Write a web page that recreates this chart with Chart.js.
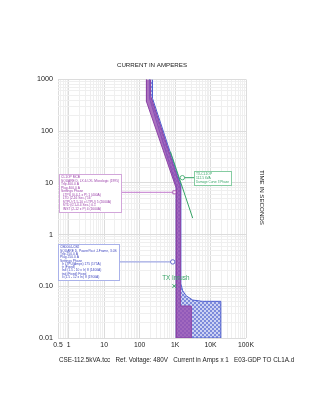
<!DOCTYPE html>
<html>
<head>
<meta charset="utf-8">
<script src="https://cdn.jsdelivr.net/npm/chart.js@4.4.0/dist/chart.umd.min.js"></script>
<style>
  html, body { margin: 0; padding: 0; background: #fff; }
</style>
</head>
<body>
<canvas id="tcc" width="325" height="420"></canvas>
<script>
// amps / seconds
const xTickValues = [0.5, 1, 10, 100, 1000, 10000, 100000];
const xTickText = ['0.5', '1', '10', '100', '1K', '10K', '100K'];
const yTickValues = [0.01, 0.1, 1, 10, 100, 1000];
const yTickText = ['0.01', '0.10', '1', '10', '100', '1000'];

// CL1OP MCB band: down the left edge, back up the right edge
const mcbAmps = [156, 156, 1090, 1090, 2880, 2880, 1410, 1410, 203, 203];
const mcbSecs = [1000, 373, 7.7, 0.01, 0.01, 0.0415, 0.0415, 8.4, 488, 1000];

// CB2 band
const cb2Amps = [190, 190, 1090, 1090, 19500, 19500, 5875, 3140, 2046, 1641, 1460, 1460, 231, 231];
const cb2Secs = [1000, 430, 8.6, 0.01, 0.01, 0.0512, 0.0512, 0.0542, 0.0657, 0.082, 0.111, 9.2, 430, 1000];

// transformer damage curve + inrush point
const txDamageAmps = [740, 3140];
const txDamageSecs = [40, 2.08];
const inrushAmps = [950];
const inrushSecs = [0.101];

// leader lines from the setting boxes
const mcbTagAmps = [29, 959];
const mcbTagSecs = [6.57, 6.57];
const cb2TagAmps = [25.5, 859];
const cb2TagSecs = [0.296, 0.296];
const txTagAmps = [1609, 3502];
const txTagSecs = [12.6, 12.6];

const mcbNote = ['CL1OP MCB', 'SQUARE D, LX & LXL Micrologic (1995)', 'Trip 400.0 A', 'Plug 400.0 A', 'Settings Phase',
  '  LTPU (0.4-1 x P) 1 (400A)', '  LTD (2-16 Sec.) 16', '  STPU (1.5-10 x LTPU) 5 (2000A)', '  STD (0.1-0.4 Sec.) 0.1', '  INST (2-12 x P) 4 (1600A)'];
const cb2Note = ['CB0004-CB2', 'SQUARE D, PowerPact J-Frame, 3.0S', 'Trip 250.0 A', 'Plug 250.0 A', 'Settings Phase',
  '  Ir LTPU(Amps) 175 (175A)', '  tr (Fixed)', '  Isd (1.5 - 10 x Ir) 8 (1400A)', '  tsd (Fixed) Fixed', '  Ii (1.5 - 12 x In) 8 (1900A)'];
const txNote = ['TX-CL1OP', '112.5 kVA', 'Damage Curve 3 Phase'];

const pts = (xs, ys) => xs.map((x, i) => ({ x: x, y: ys[i] }));

function logGrid(min, max) {
  const out = [min];
  for (let e = Math.floor(Math.log10(min)); e <= Math.ceil(Math.log10(max)); e++) {
    for (let d = 1; d < 10; d++) {
      const v = d * Math.pow(10, e);
      if (v > min * 1.0001 && v <= max * 1.0001) out.push(v);
    }
  }
  return out;
}

function findTick(values, v) {
  return values.findIndex(m => Math.abs(Math.log10(m) - Math.log10(v)) < 1e-6);
}

function checker() {
  const c = document.createElement('canvas');
  c.width = 4; c.height = 4;
  const g = c.getContext('2d');
  g.fillStyle = '#cdd2f3';
  g.fillRect(0, 0, 4, 4);
  g.fillStyle = '#7d8bdb';
  g.fillRect(0, 0, 2, 2);
  g.fillRect(2, 2, 2, 2);
  return g.createPattern(c, 'repeat');
}

const font = '"Liberation Sans", Arial, sans-serif';
const green = '#36a466';

// setting boxes placed in amps/seconds
const notes = [
  { x0: 0.524, x1: 29, y0: 15, y1: 2.75, border: '#d2a6da', color: '#9a3fa8', lines: mcbNote },
  { x0: 0.5, x1: 25.5, y0: 0.66, y1: 0.132, border: '#aab2ea', color: '#4048c0', lines: cb2Note },
  { x0: 3502, x1: 38450, y0: 17.2, y1: 9.2, border: '#86cca2', color: green, lines: txNote }
];

const notesPlugin = {
  id: 'notes',
  afterDatasetsDraw(chart) {
    const { ctx, chartArea, scales: { x, y } } = chart;
    ctx.save();
    notes.forEach(n => {
      const l = Math.round(x.getPixelForValue(n.x0));
      const r = Math.round(x.getPixelForValue(n.x1));
      const t = Math.round(y.getPixelForValue(n.y0));
      const b = Math.round(y.getPixelForValue(n.y1));
      ctx.fillStyle = '#fff';
      ctx.fillRect(l, t, r - l, b - t);
      ctx.strokeStyle = n.border;
      ctx.lineWidth = 1;
      ctx.strokeRect(l + 0.5, t + 0.5, r - l, b - t);
      ctx.fillStyle = n.color;
      ctx.font = '3.3px ' + font;
      ctx.textBaseline = 'top';
      const step = (b - t - 3) / n.lines.length;
      n.lines.forEach((s, i) => ctx.fillText(s, l + 2, t + 1.8 + i * step, r - l - 4));
    });

    // TX Inrush label over its marker
    const p = chart.getDatasetMeta(5).data[0];
    ctx.fillStyle = green;
    ctx.font = '6.3px ' + font;
    ctx.textAlign = 'center';
    ctx.textBaseline = 'middle';
    ctx.fillText('TX Inrush', p.x + 1.5, p.y - 7.5);

    // right axis title
    ctx.fillStyle = '#222';
    ctx.font = '6.2px ' + font;
    ctx.save();
    ctx.translate(chartArea.right + 16, chartArea.top + 118);
    ctx.rotate(Math.PI / 2);
    ctx.fillText('TIME IN SECONDS', 0, 0);
    ctx.restore();

    // footer
    ctx.textAlign = 'left';
    ctx.font = '6.3px ' + font;
    ctx.fillText('CSE-112.5kVA.tcc   Ref. Voltage: 480V   Current in Amps x 1   E03-GDP TO CL1A.d', chartArea.left + 1, chartArea.bottom + 22);
    ctx.restore();
  }
};

const gridColor = (values) => (c) => {
  if (!c.tick) return '#eeeeee';
  return findTick(values, c.tick.value) >= 0 ? '#dcdcdc' : '#efefef';
};

new Chart(document.getElementById('tcc'), {
  type: 'line',
  data: {
    datasets: [
      {
        label: 'CL1OP MCB', data: pts(mcbAmps, mcbSecs), order: 4,
        borderColor: '#8d44a6', borderWidth: 1, backgroundColor: 'rgba(150, 78, 176, 0.8)',
        fill: 'shape', pointRadius: 0, tension: 0
      },
      {
        label: 'CB2', data: pts(cb2Amps, cb2Secs), order: 5,
        borderColor: '#4f5fd0', borderWidth: 1, backgroundColor: checker(),
        fill: 'shape', pointRadius: 0, tension: 0
      },
      {
        label: 'TX damage', data: pts(txDamageAmps, txDamageSecs), order: 3,
        borderColor: green, borderWidth: 1, pointRadius: 0, fill: false
      },
      {
        label: 'mcb tag', data: pts(mcbTagAmps, mcbTagSecs), order: 2,
        borderColor: '#c27acd', borderWidth: 1, fill: false,
        pointRadius: [0, 2.2], pointStyle: 'rect', pointBorderColor: '#9a3fa8', pointBackgroundColor: '#fff', pointBorderWidth: 0.8
      },
      {
        label: 'cb2 tag', data: pts(cb2TagAmps, cb2TagSecs), order: 2,
        borderColor: '#8e98e2', borderWidth: 1, fill: false,
        pointRadius: [0, 2.2], pointStyle: 'circle', pointBorderColor: '#4048c0', pointBackgroundColor: '#fff', pointBorderWidth: 0.8
      },
      {
        label: 'TX Inrush', data: pts(inrushAmps, inrushSecs), order: 1,
        showLine: false, pointRadius: 2.6, pointStyle: 'crossRot', pointBorderColor: green, pointBorderWidth: 1
      },
      {
        label: 'tx tag', data: pts(txTagAmps, txTagSecs), order: 2,
        borderColor: green, borderWidth: 1, fill: false,
        pointRadius: [2.2, 0], pointStyle: 'circle', pointBorderColor: green, pointBackgroundColor: '#fff', pointBorderWidth: 0.8
      }
    ]
  },
  options: {
    responsive: false,
    animation: false,
    devicePixelRatio: 1,
    layout: { padding: { top: 62, right: 79, bottom: 66, left: 0 } },
    plugins: {
      legend: { display: false },
      tooltip: { enabled: false },
      title: {
        display: true, text: 'CURRENT IN AMPERES', fullSize: false, color: '#222',
        font: { family: font, size: 6.2, weight: 'normal' }, padding: { top: 0, bottom: 10 }
      }
    },
    scales: {
      x: {
        type: 'logarithmic', min: 0.5, max: 100000,
        afterBuildTicks: (s) => { s.ticks = logGrid(0.5, 100000).map(v => ({ value: v })); },
        afterFit: (s) => { s.height = 16; },
        ticks: {
          autoSkip: false, maxRotation: 0, minRotation: 0, padding: 3, color: '#222',
          font: { family: font, size: 6.8 },
          callback: (v) => { const i = findTick(xTickValues, v); return i < 0 ? '' : xTickText[i]; }
        },
        grid: { color: gridColor(xTickValues), lineWidth: 1, drawTicks: false },
        border: { display: false }
      },
      y: {
        type: 'logarithmic', min: 0.01, max: 1000,
        afterBuildTicks: (s) => { s.ticks = logGrid(0.01, 1000).map(v => ({ value: v })); },
        afterFit: (s) => { s.width = 58; },
        ticks: {
          autoSkip: false, padding: 5, color: '#222',
          font: { family: font, size: 7.2 },
          callback: (v) => { const i = findTick(yTickValues, v); return i < 0 ? '' : yTickText[i]; }
        },
        grid: { color: gridColor(yTickValues), lineWidth: 1, drawTicks: false },
        border: { display: false }
      }
    }
  },
  plugins: [notesPlugin]
});
</script>
</body>
</html>
